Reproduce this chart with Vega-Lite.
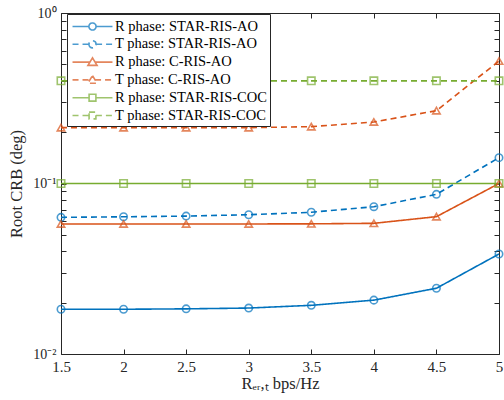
{
  "$schema": "https://vega.github.io/schema/vega-lite/v6.json",
  "autosize": "none",
  "width": 438,
  "height": 341,
  "padding": {"left": 61, "top": 13, "right": 5, "bottom": 46},
  "background": "white",
  "config": {
    "view": {"stroke": null},
    "font": "Liberation Serif",
    "axis": {
      "grid": false,
      "domainColor": "#262626",
      "tickColor": "#262626",
      "labelColor": "#262626",
      "titleColor": "#262626",
      "labelFont": "Liberation Serif",
      "titleFont": "Liberation Serif",
      "labelFontSize": 15,
      "titleFontSize": 16.5,
      "titleFontWeight": "normal",
      "tickSize": -5,
      "domainWidth": 1,
      "tickWidth": 1
    },
    "legend": {
      "title": null,
      "orient": "none",
      "legendX": 6,
      "legendY": 1,
      "fillColor": "white",
      "strokeColor": "#262626",
      "padding": 3,
      "rowPadding": 0.8,
      "symbolSize": 289,
      "symbolStrokeWidth": 1.6,
      "symbolOffset": 13,
      "labelOffset": 13,
      "labelFont": "Liberation Serif",
      "labelFontSize": 14.5,
      "labelColor": "#000000"
    }
  },
  "data": {
    "values": [
      {"x": 1.5, "y": 0.0183, "s": "R phase: STAR-RIS-AO"},
      {"x": 2, "y": 0.0183, "s": "R phase: STAR-RIS-AO"},
      {"x": 2.5, "y": 0.0184, "s": "R phase: STAR-RIS-AO"},
      {"x": 3, "y": 0.0186, "s": "R phase: STAR-RIS-AO"},
      {"x": 3.5, "y": 0.0193, "s": "R phase: STAR-RIS-AO"},
      {"x": 4, "y": 0.0207, "s": "R phase: STAR-RIS-AO"},
      {"x": 4.5, "y": 0.0243, "s": "R phase: STAR-RIS-AO"},
      {"x": 5, "y": 0.0386, "s": "R phase: STAR-RIS-AO"},
      {"x": 1.5, "y": 0.0633, "s": "T phase: STAR-RIS-AO"},
      {"x": 2, "y": 0.0638, "s": "T phase: STAR-RIS-AO"},
      {"x": 2.5, "y": 0.0644, "s": "T phase: STAR-RIS-AO"},
      {"x": 3, "y": 0.0656, "s": "T phase: STAR-RIS-AO"},
      {"x": 3.5, "y": 0.0678, "s": "T phase: STAR-RIS-AO"},
      {"x": 4, "y": 0.0731, "s": "T phase: STAR-RIS-AO"},
      {"x": 4.5, "y": 0.0864, "s": "T phase: STAR-RIS-AO"},
      {"x": 5, "y": 0.1418, "s": "T phase: STAR-RIS-AO"},
      {"x": 1.5, "y": 0.0579, "s": "R phase: C-RIS-AO"},
      {"x": 2, "y": 0.0579, "s": "R phase: C-RIS-AO"},
      {"x": 2.5, "y": 0.0579, "s": "R phase: C-RIS-AO"},
      {"x": 3, "y": 0.0579, "s": "R phase: C-RIS-AO"},
      {"x": 3.5, "y": 0.058, "s": "R phase: C-RIS-AO"},
      {"x": 4, "y": 0.0584, "s": "R phase: C-RIS-AO"},
      {"x": 4.5, "y": 0.0639, "s": "R phase: C-RIS-AO"},
      {"x": 5, "y": 0.1, "s": "R phase: C-RIS-AO"},
      {"x": 1.5, "y": 0.2127, "s": "T phase: C-RIS-AO"},
      {"x": 2, "y": 0.2127, "s": "T phase: C-RIS-AO"},
      {"x": 2.5, "y": 0.2127, "s": "T phase: C-RIS-AO"},
      {"x": 3, "y": 0.2127, "s": "T phase: C-RIS-AO"},
      {"x": 3.5, "y": 0.2155, "s": "T phase: C-RIS-AO"},
      {"x": 4, "y": 0.2296, "s": "T phase: C-RIS-AO"},
      {"x": 4.5, "y": 0.2674, "s": "T phase: C-RIS-AO"},
      {"x": 5, "y": 0.523, "s": "T phase: C-RIS-AO"},
      {"x": 1.5, "y": 0.1, "s": "R phase: STAR-RIS-COC"},
      {"x": 2, "y": 0.1, "s": "R phase: STAR-RIS-COC"},
      {"x": 2.5, "y": 0.1, "s": "R phase: STAR-RIS-COC"},
      {"x": 3, "y": 0.1, "s": "R phase: STAR-RIS-COC"},
      {"x": 3.5, "y": 0.1, "s": "R phase: STAR-RIS-COC"},
      {"x": 4, "y": 0.1, "s": "R phase: STAR-RIS-COC"},
      {"x": 4.5, "y": 0.1, "s": "R phase: STAR-RIS-COC"},
      {"x": 5, "y": 0.1, "s": "R phase: STAR-RIS-COC"},
      {"x": 1.5, "y": 0.4, "s": "T phase: STAR-RIS-COC"},
      {"x": 2, "y": 0.4, "s": "T phase: STAR-RIS-COC"},
      {"x": 2.5, "y": 0.4, "s": "T phase: STAR-RIS-COC"},
      {"x": 3, "y": 0.4, "s": "T phase: STAR-RIS-COC"},
      {"x": 3.5, "y": 0.4, "s": "T phase: STAR-RIS-COC"},
      {"x": 4, "y": 0.4, "s": "T phase: STAR-RIS-COC"},
      {"x": 4.5, "y": 0.4, "s": "T phase: STAR-RIS-COC"},
      {"x": 5, "y": 0.4, "s": "T phase: STAR-RIS-COC"}
    ]
  },
  "resolve": {
    "axis": {"x": "independent", "y": "independent"},
    "scale": {"shape": "independent", "color": "independent", "strokeDash": "independent"}
  },
  "layer": [
    {
      "mark": {"type": "line", "strokeWidth": 1.6, "clip": false},
      "encoding": {
        "x": {
          "field": "x", "type": "quantitative",
          "scale": {"domain": [1.5, 5], "nice": false, "zero": false},
          "axis": {"orient": "bottom", "values": [1.5, 2, 2.5, 3, 3.5, 4, 4.5, 5], "format": "~g", "title": "Rₑᵣ,ₜ bps/Hz", "labelPadding": 10, "titlePadding": 1, "labelFlush": false}
        },
        "y": {
          "field": "y", "type": "quantitative",
          "scale": {"type": "log", "domain": [0.01, 1], "nice": false},
          "axis": {
            "orient": "left",
            "values": [0.01, 0.02, 0.03, 0.04, 0.05, 0.06, 0.07, 0.08, 0.09, 0.1, 0.2, 0.3, 0.4, 0.5, 0.6, 0.7, 0.8, 0.9, 1],
            "labelExpr": "datum.value == 1 ? '10⁰' : (datum.value == 0.1 ? '10⁻¹' : (datum.value == 0.01 ? '10⁻²' : ''))",
            "title": "Root CRB (deg)", "labelPadding": 10, "titlePadding": 8, "labelFlush": false, "labelFontSize": 14
          }
        },
        "color": {
          "field": "s", "type": "nominal",
          "scale": {
            "domain": ["R phase: STAR-RIS-AO", "T phase: STAR-RIS-AO", "R phase: C-RIS-AO", "T phase: C-RIS-AO", "R phase: STAR-RIS-COC", "T phase: STAR-RIS-COC"],
            "range": ["#0072BD", "#0072BD", "#D95319", "#D95319", "#77AC30", "#77AC30"]
          },
          "legend": null
        },
        "strokeDash": {
          "field": "s", "type": "nominal",
          "scale": {
            "domain": ["R phase: STAR-RIS-AO", "T phase: STAR-RIS-AO", "R phase: C-RIS-AO", "T phase: C-RIS-AO", "R phase: STAR-RIS-COC", "T phase: STAR-RIS-COC"],
            "range": [[1, 0], [6, 4], [1, 0], [6, 4], [1, 0], [6, 4]]
          },
          "legend": null
        }
      }
    },
    {
      "mark": {"type": "point", "filled": false, "strokeWidth": 1.6, "size": 55, "clip": false},
      "encoding": {
        "x": {
          "field": "x", "type": "quantitative",
          "axis": {"orient": "top", "values": [1.5, 2, 2.5, 3, 3.5, 4, 4.5, 5], "labels": false, "title": null}
        },
        "y": {
          "field": "y", "type": "quantitative",
          "axis": {
            "orient": "right",
            "values": [0.01, 0.02, 0.03, 0.04, 0.05, 0.06, 0.07, 0.08, 0.09, 0.1, 0.2, 0.3, 0.4, 0.5, 0.6, 0.7, 0.8, 0.9, 1],
            "labels": false, "title": null
          }
        },
        "color": {
          "field": "s", "type": "nominal",
          "scale": {
            "domain": ["R phase: STAR-RIS-AO", "T phase: STAR-RIS-AO", "R phase: C-RIS-AO", "T phase: C-RIS-AO", "R phase: STAR-RIS-COC", "T phase: STAR-RIS-COC"],
            "range": ["#0072BD", "#0072BD", "#D95319", "#D95319", "#77AC30", "#77AC30"]
          },
          "legend": null
        },
        "shape": {
          "field": "s", "type": "nominal",
          "scale": {
            "domain": ["R phase: STAR-RIS-AO", "T phase: STAR-RIS-AO", "R phase: C-RIS-AO", "T phase: C-RIS-AO", "R phase: STAR-RIS-COC", "T phase: STAR-RIS-COC"],
            "range": ["circle", "circle", "triangle-up", "triangle-up", "square", "square"]
          },
          "legend": null
        }
      }
    },
    {
      "transform": [{"filter": "datum.x > 100"}],
      "mark": {"type": "point", "filled": false, "strokeWidth": 1.6, "size": 289},
      "encoding": {
        "x": {"field": "x", "type": "quantitative", "axis": null},
        "y": {"field": "y", "type": "quantitative", "axis": null},
        "color": {
          "field": "s", "type": "nominal",
          "scale": {
            "domain": ["R phase: STAR-RIS-AO", "T phase: STAR-RIS-AO", "R phase: C-RIS-AO", "T phase: C-RIS-AO", "R phase: STAR-RIS-COC", "T phase: STAR-RIS-COC"],
            "range": ["#0072BD", "#0072BD", "#D95319", "#D95319", "#77AC30", "#77AC30"]
          }
        },
        "strokeDash": {
          "field": "s", "type": "nominal",
          "scale": {
            "domain": ["R phase: STAR-RIS-AO", "T phase: STAR-RIS-AO", "R phase: C-RIS-AO", "T phase: C-RIS-AO", "R phase: STAR-RIS-COC", "T phase: STAR-RIS-COC"],
            "range": [[1, 0], [6, 4], [1, 0], [6, 4], [1, 0], [6, 4]]
          }
        },
        "shape": {
          "field": "s", "type": "nominal",
          "scale": {
            "domain": ["R phase: STAR-RIS-AO", "T phase: STAR-RIS-AO", "R phase: C-RIS-AO", "T phase: C-RIS-AO", "R phase: STAR-RIS-COC", "T phase: STAR-RIS-COC"],
            "range": [
              "M-2.35,0H-0.42M0.42,0H2.35M-0.42,0A0.42,0.42 0 1,0 0.42,0A0.42,0.42 0 1,0 -0.42,0",
              "M-2.35,0H-0.42M0.42,0H2.35M-0.42,0A0.42,0.42 0 1,0 0.42,0A0.42,0.42 0 1,0 -0.42,0",
              "M-2.35,0H-0.3M0.3,0H2.35M0,-0.5L0.54,0.39L-0.54,0.39Z",
              "M-2.35,0H-0.3M0.3,0H2.35M0,-0.5L0.54,0.39L-0.54,0.39Z",
              "M-2.35,0H-0.4M0.4,0H2.35M-0.4,-0.4H0.4V0.4H-0.4Z",
              "M-2.35,0H-0.4M0.4,0H2.35M-0.4,-0.4H0.4V0.4H-0.4Z"
            ]
          }
        }
      }
    }
  ]
}
